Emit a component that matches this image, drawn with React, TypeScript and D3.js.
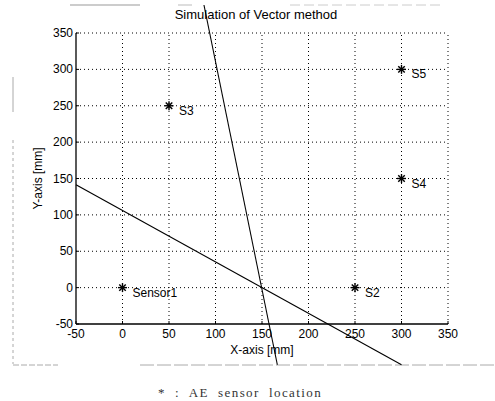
import React from 'react';
import * as d3 from 'd3';

// axis ticks (mm)
const xTicks = [-50, 0, 50, 100, 150, 200, 250, 300, 350];
const yTicks = [-50, 0, 50, 100, 150, 200, 250, 300, 350];

// AE sensor positions
const sensorNames = ['Sensor1', 'S2', 'S3', 'S4', 'S5'];
const sensorX = [0, 250, 50, 300, 300];
const sensorY = [0, 0, 250, 150, 300];

// the two direction vectors crossing at the source
const line1X = [-50, 300];
const line1Y = [141.4, -106];
const line2X = [87.6, 166.5];
const line2Y = [388.5, -106];

const App = () => {
  const width = 495;
  const height = 401;
  const margin = { top: 33, left: 76, right: 47, bottom: 77 };

  const x = d3.scaleLinear().domain([-50, 350]).range([margin.left, width - margin.right]);
  const y = d3.scaleLinear().domain([-50, 350]).range([height - margin.bottom, margin.top]);

  const line = d3.line<[number, number]>().x(d => x(d[0])).y(d => y(d[1]));
  const l1 = line1X.map((v, i) => [v, line1Y[i]] as [number, number]);
  const l2 = line2X.map((v, i) => [v, line2Y[i]] as [number, number]);

  const font = 'Liberation Sans, Arial, sans-serif';

  return (
    <svg width={width} height={height} style={{ position: 'absolute', left: 0, top: 0, background: '#fff' }}>
      {/* faint figure frame from the scan */}
      <g stroke="#aaa" strokeWidth={1} fill="none">
        <line x1={13} y1={77} x2={13} y2={112} />
        <line x1={13} y1={140} x2={13} y2={364} strokeDasharray="3,3" />
        <line x1={13} y1={365} x2={58} y2={365} strokeDasharray="6,2" />
        <line x1={140} y1={365} x2={495} y2={365} strokeDasharray="14,3" />
        <line x1={70} y1={5} x2={140} y2={5} stroke="#bbb" strokeWidth={1.5} />
        <line x1={178} y1={5} x2={192} y2={5} stroke="#bbb" />
        <line x1={290} y1={5} x2={440} y2={5} stroke="#ccc" strokeDasharray="10,4" />
      </g>

      {/* grid */}
      <g stroke="#000" strokeWidth={1} strokeDasharray="1,3">
        {xTicks.slice(1).map(t => (
          <line key={`gx${t}`} x1={x(t)} x2={x(t)} y1={y(-50)} y2={y(350)} />
        ))}
        {yTicks.slice(1).map(t => (
          <line key={`gy${t}`} x1={x(-50)} x2={x(350)} y1={y(t)} y2={y(t)} />
        ))}
      </g>

      {/* axes */}
      <g stroke="#000" strokeWidth={1.3}>
        <line x1={x(-50)} x2={x(-50)} y1={y(-50)} y2={y(350)} />
        <line x1={x(-50)} x2={x(350)} y1={y(-50)} y2={y(-50)} />
        {xTicks.map(t => (
          <line key={`tx${t}`} x1={x(t)} x2={x(t)} y1={y(-50)} y2={y(-50) - 3} strokeWidth={1} />
        ))}
        {yTicks.map(t => (
          <line key={`ty${t}`} x1={x(-50)} x2={x(-50) + 3} y1={y(t)} y2={y(t)} strokeWidth={1} />
        ))}
      </g>

      <g fontFamily={font} fontSize={12} fill="#000">
        {xTicks.map(t => (
          <text key={`lx${t}`} x={x(t)} y={y(-50) + 14} textAnchor="middle">{t}</text>
        ))}
        {yTicks.map(t => (
          <text key={`ly${t}`} x={x(-50) - 3} y={y(t) + 4} textAnchor="end">{t}</text>
        ))}
        <text x={(x(-50) + x(350)) / 2} y={354} textAnchor="middle">X-axis [mm]</text>
        <text transform={`translate(42, ${(y(-50) + y(350)) / 2}) rotate(-90)`} textAnchor="middle">Y-axis [mm]</text>
        <text x={(x(-50) + x(350)) / 2 - 6} y={19} textAnchor="middle" fontSize={13}>Simulation of Vector method</text>
      </g>

      {/* vectors */}
      <path d={line(l1) || ''} stroke="#000" strokeWidth={1.1} fill="none" />
      <path d={line(l2) || ''} stroke="#000" strokeWidth={1.1} fill="none" />

      {/* sensors */}
      {sensorNames.map((n, i) => {
        const cx = x(sensorX[i]);
        const cy = y(sensorY[i]);
        const r = 4.5;
        const d = r * 0.72;
        return (
          <g key={n}>
            <g stroke="#000" strokeWidth={1.4}>
              <line x1={cx - r} x2={cx + r} y1={cy} y2={cy} />
              <line x1={cx} x2={cx} y1={cy - r} y2={cy + r} />
              <line x1={cx - d} x2={cx + d} y1={cy - d} y2={cy + d} />
              <line x1={cx - d} x2={cx + d} y1={cy + d} y2={cy - d} />
            </g>
            <text x={cx + 10} y={cy + 9} fontFamily={font} fontSize={12}>{n}</text>
          </g>
        );
      })}

      <text x={240} y={397} textAnchor="middle" fontFamily="Liberation Serif, Times New Roman, serif"
        fontSize={13} fill="#333" letterSpacing={1.4} style={{ whiteSpace: 'pre' }}>
        {'*  :  AE  sensor  location'}
      </text>
    </svg>
  );
};

export default App;
